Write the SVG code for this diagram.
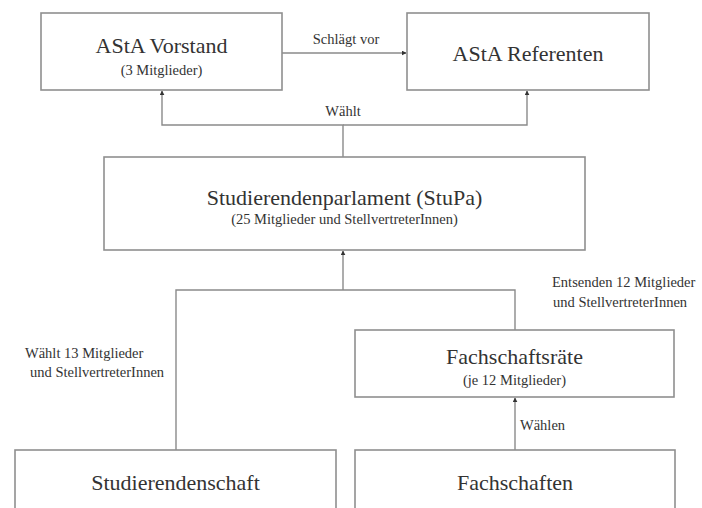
<svg xmlns="http://www.w3.org/2000/svg" width="702" height="508" viewBox="0 0 702 508">
<style>
.box{fill:#ffffff;stroke:#8f8f8f;stroke-width:1.6}
.t{font-family:"Liberation Serif","Times New Roman",serif;fill:#333333;text-anchor:middle}
.title{font-size:22px}
.sub{font-size:14.5px}
.lbl{font-family:"Liberation Serif","Times New Roman",serif;fill:#333333;font-size:14.5px}
.ln{fill:none;stroke:#8a8a8a;stroke-width:1.4}
</style>
<defs>
<marker id="ah" viewBox="0 0 8 8" refX="7" refY="4" markerWidth="5" markerHeight="5" orient="auto" markerUnits="userSpaceOnUse">
<path d="M0,0 L8,4 L0,8 z" fill="#333333"/>
</marker>
</defs>
<rect width="702" height="508" fill="#ffffff"/>
<g id="connectors">
<line class="ln" x1="282" y1="53" x2="406" y2="53" marker-end="url(#ah)"/>
<path class="ln" d="M343,157 V125 H162 V91" marker-end="url(#ah)"/>
<path class="ln" d="M343,125 H527 V91" marker-end="url(#ah)"/>
<path class="ln" d="M176,450 V290 H515 V330"/>
<path class="ln" d="M343,290 V251" marker-end="url(#ah)"/>
<path class="ln" d="M515,450 V398" marker-end="url(#ah)"/>
<text class="lbl" x="346" y="44" text-anchor="middle">Schlägt vor</text>
<text class="lbl" x="343" y="116" text-anchor="middle">Wählt</text>
<text class="lbl" x="552" y="287">Entsenden 12 Mitglieder</text>
<text class="lbl" x="553" y="307">und StellvertreterInnen</text>
<text class="lbl" x="25" y="358">Wählt 13 Mitglieder</text>
<text class="lbl" x="30" y="377">und StellvertreterInnen</text>
<text class="lbl" x="520" y="430">Wählen</text>
</g>
<g id="asta-vorstand">
<rect class="box" x="41" y="13" width="241" height="77"/>
<text class="t title" x="161.5" y="53">AStA Vorstand</text>
<text class="t sub" x="161.5" y="75">(3 Mitglieder)</text>
</g>
<g id="asta-referenten">
<rect class="box" x="407" y="13" width="242" height="77"/>
<text class="t title" x="528" y="61">AStA Referenten</text>
</g>
<g id="stupa">
<rect class="box" x="104" y="157" width="481" height="93"/>
<text class="t title" x="344.5" y="205">Studierendenparlament (StuPa)</text>
<text class="t sub" x="344.5" y="224">(25 Mitglieder und StellvertreterInnen)</text>
</g>
<g id="fachschaftsraete">
<rect class="box" x="355" y="330" width="319" height="67"/>
<text class="t title" x="514.5" y="364">Fachschaftsräte</text>
<text class="t sub" x="514.5" y="385">(je 12 Mitglieder)</text>
</g>
<g id="studierendenschaft">
<rect class="box" x="15" y="450" width="321" height="80"/>
<text class="t title" x="175.5" y="490">Studierendenschaft</text>
</g>
<g id="fachschaften">
<rect class="box" x="355" y="450" width="320" height="80"/>
<text class="t title" x="515" y="490">Fachschaften</text>
</g>
</svg>
